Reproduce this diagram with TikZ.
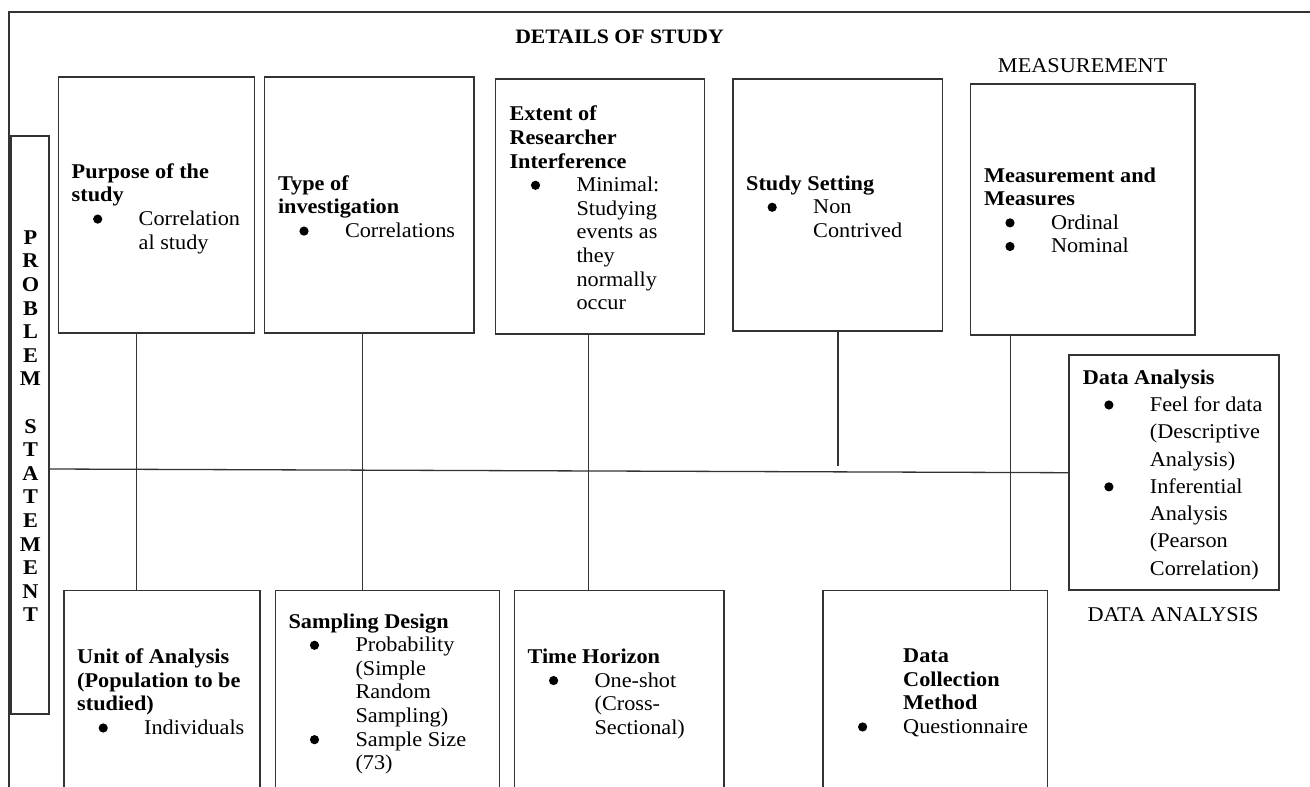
\documentclass[tikz,border=0pt]{standalone}
\usepackage{fontspec}
\setmainfont[FakeStretch=1.06]{Liberation Serif}
\usepackage{graphicx}
\definecolor{lc}{HTML}{333333}
\newcommand\bdot{\tikz[baseline=-6.5pt]\fill[black] (0,0) circle (4.6pt);}
\newcommand\bl[1]{\makebox[67pt][l]{\hspace*{21.4pt}\bdot}#1}
\newcommand\cl[1]{\hspace*{67pt}#1}
\tikzset{
  box/.style={draw=lc, line width=1.3pt, rectangle, inner sep=0pt, outer sep=0pt, anchor=north west},
  txt/.style={anchor=north west, inner sep=0pt, align=left, text=black, font=\fontsize{21}{23.6}\selectfont},
  wide/.style={txt, font=\fontsize{21}{27.3}\selectfont},
  conn/.style={draw=lc, line width=1.3pt},
  frame/.style={draw=lc, line width=1.8pt},
  title/.style={inner sep=0pt, font=\fontsize{20.5}{24}\selectfont\bfseries},
  label/.style={inner sep=0pt, font=\fontsize{21}{24}\selectfont},
}
\begin{document}
\begin{tikzpicture}[x=1pt,y=-1pt]
\useasboundingbox (0,0) rectangle (1310,787);
\clip (0,0) rectangle (1310,787);
\fill[white] (0,0) rectangle (1310,787);
% outer frame
\draw[frame] (9,800) -- (9,12) -- (1320,12);
% titles
\node[title] (details) at (619.5,36.7) {DETAILS OF STUDY};
\node[label] (measlabel) at (1082.7,65.7) {MEASUREMENT};
\node[label] (dalabel) at (1173,615) {DATA ANALYSIS};
% problem statement
\node[box, minimum width=38pt, minimum height=578pt] (ps) at (11,136) {};
\node[inner sep=0pt, align=center, font=\fontsize{21}{23.6}\selectfont\bfseries] (pstext) at (30.5,426.2)
  {P\\R\\O\\B\\L\\E\\M\\\mbox{}\\S\\T\\A\\T\\E\\M\\E\\N\\T};
% top boxes
\node[box, minimum width=196.1pt, minimum height=256pt] (purpose) at (58.5,77) {};
\node[box, minimum width=209.7pt, minimum height=256pt] (type) at (264.3,77) {};
\node[box, minimum width=209.3pt, minimum height=255pt] (extent) at (495.4,79) {};
\node[box, minimum width=209.5pt, minimum height=252pt] (setting) at (733,79) {};
\node[box, minimum width=224.3pt, minimum height=251pt] (meas) at (970.7,84) {};
% data analysis box
\node[box, minimum width=210pt, minimum height=235pt] (da) at (1069,355) {};
% bottom boxes
\node[box, minimum width=196pt, minimum height=220pt] (unit) at (64,590.5) {};
\node[box, minimum width=224.3pt, minimum height=220pt] (sampling) at (275.3,590.5) {};
\node[box, minimum width=209.7pt, minimum height=220pt] (time) at (514.3,590.5) {};
\node[box, minimum width=224.3pt, minimum height=220pt] (dc) at (823,590.5) {};
% texts
\node[txt] (purposet) at (71.5,163.4) {\textbf{Purpose of the}\\\textbf{study}\\\bl{Correlation}\\\cl{al study}};
\node[txt] (typet) at (277.8,175.4) {\textbf{Type of}\\\textbf{investigation}\\\bl{Correlations}};
\node[txt] (extentt) at (509.3,106) {\textbf{Extent of}\\\textbf{Researcher}\\\textbf{Interference}\\\bl{Minimal:}\\\cl{Studying}\\\cl{events as}\\\cl{they}\\\cl{normally}\\\cl{occur}};
\node[txt] (settingt) at (746,175.4) {\textbf{Study Setting}\\\bl{Non}\\\cl{Contrived}};
\node[txt] (meast) at (983.8,167.4) {\textbf{Measurement and}\\\textbf{Measures}\\\bl{Ordinal}\\\bl{Nominal}};
\node[wide] (dat) at (1082.7,369.4) {\textbf{Data Analysis}\\\bl{Feel for data}\\\cl{(Descriptive}\\\cl{Analysis)}\\\bl{Inferential}\\\cl{Analysis}\\\cl{(Pearson}\\\cl{Correlation)}};
\node[txt] (unitt) at (77,648.7) {\textbf{Unit of Analysis}\\\textbf{(Population to be}\\\textbf{studied)}\\\bl{Individuals}};
\node[txt] (samplingt) at (288.3,613.4) {\textbf{Sampling Design}\\\bl{Probability}\\\cl{(Simple}\\\cl{Random}\\\cl{Sampling)}\\\bl{Sample Size}\\\cl{(73)}};
\node[txt] (timet) at (527.4,648.7) {\textbf{Time Horizon}\\\bl{One-shot}\\\cl{(Cross-}\\\cl{Sectional)}};
\node[txt] (dct) at (903,648.7) {\textbf{Data}\\\textbf{Collection}\\\textbf{Method}\\\llap{\bdot\hspace*{36pt}}Questionnaire};
% connectors
\coordinate (c1) at (136.8,0);
\coordinate (c2) at (362.8,0);
\coordinate (c3) at (588.4,0);
\coordinate (c4) at (838.1,0);
\coordinate (c5) at (1010.7,0);
\coordinate (send) at (838.1,466);
\coordinate (h1) at (0,469);
\coordinate (h2) at (0,472.7);
\draw[conn] (purpose.south -| c1) -- (unit.north -| c1);
\draw[conn] (type.south -| c2) -- (sampling.north -| c2);
\draw[conn] (extent.south -| c3) -- (time.north -| c3);
\draw[conn] (setting.south -| c4) -- (send);
\draw[conn] (meas.south -| c5) -- (dc.north -| c5);
\draw[conn] (ps.east |- h1) -- (da.west |- h2);
\end{tikzpicture}
\end{document}
